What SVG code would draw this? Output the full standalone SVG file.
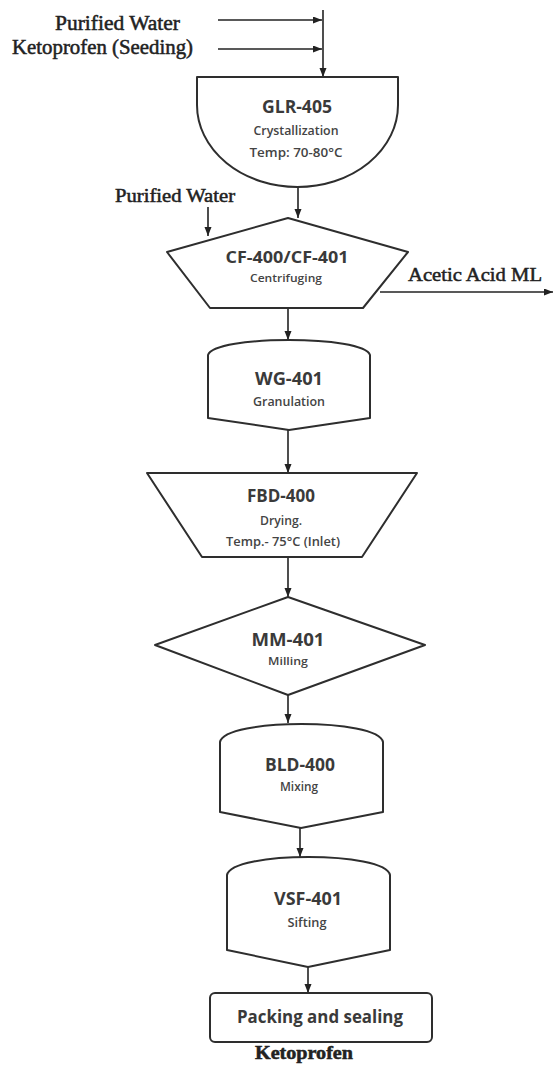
<svg xmlns="http://www.w3.org/2000/svg" width="555" height="1070" viewBox="0 0 555 1070">
<defs>
<marker id="ah" markerUnits="userSpaceOnUse" markerWidth="10" markerHeight="8" refX="9" refY="3.5" orient="auto">
<path d="M0,0 L9,3.5 L0,7 Z" fill="#222"/>
</marker>
<style>
.shape{fill:#fff;stroke:#2e2e2e;stroke-width:2;stroke-linejoin:round}
.conn{stroke:#222;stroke-width:1.6;fill:none;marker-end:url(#ah)}
.lbl{font-family:"Liberation Serif",serif;fill:#222;stroke:#222;stroke-width:0.5}
.t1{font-family:"Open Sans","Liberation Sans",sans-serif;font-weight:bold;fill:#3a3a3a;text-anchor:middle}
.t2{font-family:"Open Sans","Liberation Sans",sans-serif;font-weight:600;fill:#444;text-anchor:middle}
</style>
</defs>
<rect width="555" height="1070" fill="#fff"/>
<g id="connectors">
<line class="conn" x1="218" y1="20" x2="322" y2="20"/>
<line class="conn" x1="218" y1="49" x2="322" y2="49"/>
<line class="conn" x1="323" y1="10" x2="323" y2="77"/>
<line class="conn" x1="298" y1="187" x2="298" y2="218"/>
<line class="conn" x1="208" y1="207" x2="208" y2="236"/>
<line class="conn" x1="380" y1="292" x2="553" y2="292"/>
<line class="conn" x1="288" y1="308" x2="288" y2="340"/>
<line class="conn" x1="288" y1="430" x2="288" y2="473"/>
<line class="conn" x1="288" y1="557" x2="288" y2="597"/>
<line class="conn" x1="288" y1="695" x2="288" y2="723"/>
<line class="conn" x1="300" y1="828" x2="300" y2="857"/>
<line class="conn" x1="308" y1="967" x2="308" y2="993"/>
</g>
<g id="labels">
<text class="lbl" x="55" y="30" font-size="20" textLength="125" lengthAdjust="spacingAndGlyphs">Purified Water</text>
<text class="lbl" x="12" y="54" font-size="20" textLength="181" lengthAdjust="spacingAndGlyphs">Ketoprofen (Seeding)</text>
<text class="lbl" x="115" y="202" font-size="18" textLength="120" lengthAdjust="spacingAndGlyphs">Purified Water</text>
<text class="lbl" x="408" y="281" font-size="19" textLength="134" lengthAdjust="spacingAndGlyphs">Acetic Acid ML</text>
</g>
<g id="GLR-405">
<path class="shape" d="M197,77 L398,77 L398,105 A100.5,82 0 0 1 197,105 Z"/>
<text class="t1" x="297" y="113" font-size="18" textLength="70" lengthAdjust="spacingAndGlyphs">GLR-405</text>
<text class="t2" x="296" y="135" font-size="12" textLength="85" lengthAdjust="spacingAndGlyphs">Crystallization</text>
<text class="t2" x="296" y="157" font-size="13" textLength="93" lengthAdjust="spacingAndGlyphs">Temp: 70-80°C</text>
</g>
<g id="CF-400">
<path class="shape" d="M288,218 L408,252 L363,308 L210,308 L167,252 Z"/>
<text class="t1" x="287" y="263" font-size="16" textLength="123" lengthAdjust="spacingAndGlyphs">CF-400/CF-401</text>
<text class="t2" x="286" y="282" font-size="11" textLength="72" lengthAdjust="spacingAndGlyphs">Centrifuging</text>
</g>
<g id="WG-401">
<path class="shape" d="M208,418 V355 C214,335 364,335 370,355 V418 L289,430 Z"/>
<text class="t1" x="289" y="385" font-size="18" textLength="68" lengthAdjust="spacingAndGlyphs">WG-401</text>
<text class="t2" x="289" y="406" font-size="12" textLength="72" lengthAdjust="spacingAndGlyphs">Granulation</text>
</g>
<g id="FBD-400">
<path class="shape" d="M147,473 L417,473 L362,557 L202,557 Z"/>
<text class="t1" x="281" y="502" font-size="18" textLength="68" lengthAdjust="spacingAndGlyphs">FBD-400</text>
<text class="t2" x="281" y="525" font-size="12" textLength="42" lengthAdjust="spacingAndGlyphs">Drying.</text>
<text class="t2" x="283" y="546" font-size="13" textLength="114" lengthAdjust="spacingAndGlyphs">Temp.- 75°C (Inlet)</text>
</g>
<g id="MM-401">
<path class="shape" d="M288,597 L425,645 L288,695 L155,645 Z"/>
<text class="t1" x="288" y="646" font-size="18" textLength="73" lengthAdjust="spacingAndGlyphs">MM-401</text>
<text class="t2" x="288" y="665" font-size="11" textLength="40" lengthAdjust="spacingAndGlyphs">Milling</text>
</g>
<g id="BLD-400">
<path class="shape" d="M220,812 V742 C225,718 378,718 383,742 V812 L301,828 Z"/>
<text class="t1" x="300" y="771" font-size="17" textLength="70" lengthAdjust="spacingAndGlyphs">BLD-400</text>
<text class="t2" x="299" y="791" font-size="12" textLength="38" lengthAdjust="spacingAndGlyphs">Mixing</text>
</g>
<g id="VSF-401">
<path class="shape" d="M227,950 V875 C232,851 385,851 390,875 V950 L308,967 Z"/>
<text class="t1" x="308" y="905" font-size="18" textLength="68" lengthAdjust="spacingAndGlyphs">VSF-401</text>
<text class="t2" x="307" y="927" font-size="12" textLength="39" lengthAdjust="spacingAndGlyphs">Sifting</text>
</g>
<g id="packing">
<rect class="shape" x="210" y="993" width="222" height="49" rx="5"/>
<text class="t1" x="320" y="1023" font-size="17" textLength="166" lengthAdjust="spacingAndGlyphs">Packing and sealing</text>
</g>
<g id="product">
<text class="lbl" x="255" y="1059" font-size="18" font-weight="bold" textLength="98" lengthAdjust="spacingAndGlyphs">Ketoprofen</text>
</g>
</svg>
